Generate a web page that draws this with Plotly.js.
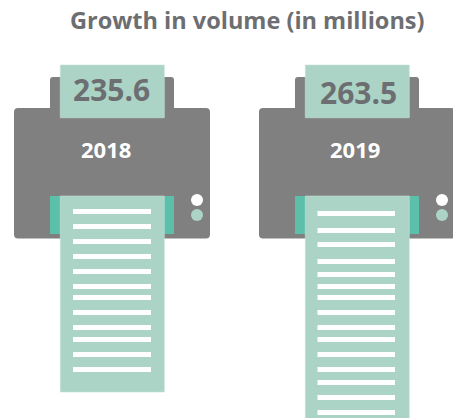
<!DOCTYPE html>
<html>
<head>
<meta charset="utf-8">
<script src="https://cdn.plot.ly/plotly-3.0.1.min.js"></script>
<style>html,body{margin:0;padding:0;background:#fff}#chart{width:453px;height:418px}</style>
</head>
<body>
<div id="chart"></div>
<script>
// Volumes printed per year, in millions
const years = ['2018', '2019'];
const volumes = [235.6, 263.5];
const chartTitle = 'Growth in volume (in millions)';

// Where the sheet leaves and re-enters the printer body, in millions
const feedTop = 38;
const feedExit = 94.4;

// Ruled text lines on each sheet, as heights in the drawing space
const rules2018 = [211.5, 226.5, 241.5, 256.5, 271.5, 286.5, 297.5, 312.5, 327.5, 339.5, 354.5, 369.5];
const rules2019 = [213.5, 230.5, 244.5, 261.5, 274.5, 286.5, 297.5, 312.5, 327.5, 339.5, 354.5, 369.5, 382.5, 397.5, 412.5];

const W = 453, H = 418;
const GREY = '#808080', PAPER = '#abd4c6', SLOT = '#5cbfa9', INK = '#6d6e71';
const FONT = '"Open Sans", "Noto Sans", sans-serif';

// Sheet scale: 0 sits at the top of the sheet, 1 million is about 1.388 px
const unit = 327 / 235.6;
const sheetOrigin = 65;
// Category spacing and centre of the first printer
const pitch = 245, firstCentre = 112.3, sheetWidth = 104;

function roundRect(x0, y0, x1, y1, r) {
  return `M${x0 + r},${y0} L${x1 - r},${y0} Q${x1},${y0} ${x1},${y0 + r} L${x1},${y1 - r} Q${x1},${y1} ${x1 - r},${y1} ` +
         `L${x0 + r},${y1} Q${x0},${y1} ${x0},${y1 - r} L${x0},${y0 + r} Q${x0},${y0} ${x0 + r},${y0} Z`;
}

// One printer's housing, slot and status lights
function printerShapes(left) {
  const base = {xref: 'x2', yref: 'y2', layer: 'below', line: {width: 0}};
  return [
    {...base, type: 'path', path: roundRect(left + 36, 77, left + 160, 125, 3), fillcolor: GREY},
    {...base, type: 'path', path: roundRect(left, 108, left + 196, 238.5, 4), fillcolor: GREY},
    {...base, type: 'rect', x0: left + 36, x1: left + 160, y0: 196, y1: 234, fillcolor: SLOT},
    {...base, type: 'circle', x0: left + 177, x1: left + 189, y0: 194, y1: 206, fillcolor: '#ffffff'},
    {...base, type: 'circle', x0: left + 177, x1: left + 189, y0: 209, y1: 221, fillcolor: PAPER}
  ];
}

function ruleTrace(rows, x0, x1) {
  const xs = [], ys = [];
  rows.forEach(r => { xs.push(x0, x1, null); ys.push(r, r, null); });
  return {
    type: 'scatter', mode: 'lines', x: xs, y: ys, xaxis: 'x2', yaxis: 'y2',
    line: {color: '#ffffff', width: 5, simplify: false}, hoverinfo: 'skip', showlegend: false
  };
}

const sheetStyle = {color: PAPER, line: {color: '#c4e1d7', width: 0.6}};
const barWidth = sheetWidth / pitch;

const traces = [
  // Top of each sheet, feeding in behind the value label
  {type: 'bar', x: years, y: years.map(() => feedTop), base: 0, width: barWidth,
   marker: sheetStyle, hoverinfo: 'skip', showlegend: false},
  // Printed sheet: its far end sits at the year's volume
  {type: 'bar', x: years, y: volumes.map(v => v - feedExit), base: feedExit, width: barWidth,
   marker: sheetStyle, customdata: volumes, hovertemplate: '%{x}: %{customdata}<extra></extra>', showlegend: false},
  ruleTrace(rules2018, 73, 151),
  ruleTrace(rules2019, 317.5, 395)
];

const valueLabel = (i, x, y) => ({
  xref: 'x2', yref: 'y2', x, y, text: volumes[i].toFixed(1), showarrow: false,
  xanchor: 'center', yanchor: 'middle', font: {family: FONT, size: 30, color: INK, weight: 700}
});
const yearLabel = (i, x) => ({
  xref: 'x2', yref: 'y2', x, y: 148.5, text: years[i], showarrow: false,
  xanchor: 'center', yanchor: 'middle', font: {family: FONT, size: 22, color: '#ffffff', weight: 700}
});

const layout = {
  width: W, height: H,
  margin: {l: 0, r: 0, t: 0, b: 0, pad: 0},
  paper_bgcolor: '#ffffff', plot_bgcolor: '#ffffff',
  showlegend: false, bargap: 0, barmode: 'overlay',
  title: {text: ''},
  xaxis: {type: 'category', categoryorder: 'array', categoryarray: years,
          range: [-firstCentre / pitch, (W - firstCentre) / pitch], visible: false, fixedrange: true},
  yaxis: {range: [(H - sheetOrigin) / unit, -sheetOrigin / unit], visible: false, fixedrange: true},
  xaxis2: {range: [0, W], overlaying: 'x', visible: false, fixedrange: true},
  yaxis2: {range: [H, 0], overlaying: 'y', visible: false, fixedrange: true},
  shapes: [...printerShapes(14), ...printerShapes(259)],
  annotations: [
    {xref: 'x2', yref: 'y2', x: 247, y: 20, text: chartTitle, showarrow: false, xanchor: 'center', yanchor: 'middle',
     font: {family: FONT, size: 23.5, color: INK, weight: 700}},
    valueLabel(0, 111.5, 89.5), valueLabel(1, 358, 92.5),
    yearLabel(0, 106), yearLabel(1, 354.5)
  ]
};

Plotly.newPlot('chart', traces, layout, {staticPlot: true, displayModeBar: false});
</script>
</body>
</html>
